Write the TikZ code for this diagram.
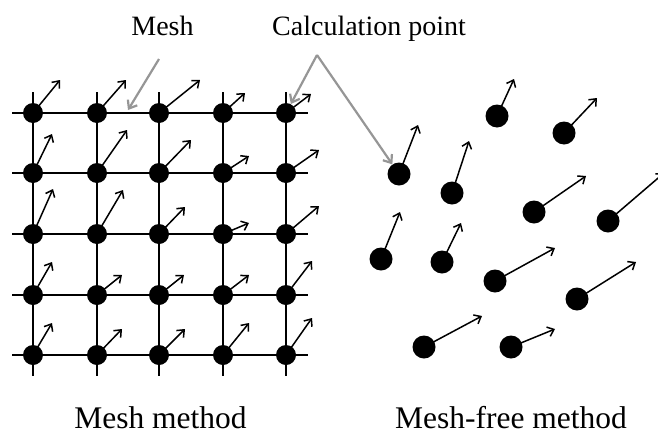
\documentclass[tikz,border=0pt]{standalone}
\usepackage{fontspec}
\setmainfont{Liberation Serif}
\usetikzlibrary{arrows.meta}
\definecolor{ptrgray}{RGB}{150,150,150}
\begin{document}
\begin{tikzpicture}[x=1pt,y=-1pt,
  gridline/.style={line width=2pt},
  gdot/.style={circle,fill=black,inner sep=0pt,minimum size=20pt},
  fdot/.style={circle,fill=black,inner sep=0pt,minimum size=23pt},
  vec/.style={line width=1.5pt,-{Straight Barb[length=6pt,width=10pt]}},
  pointer/.style={ptrgray,line width=2.2pt,-{Straight Barb[length=7pt,width=11pt]}},
  toplbl/.style={font=\fontsize{28}{30}\selectfont,anchor=base,inner sep=0pt},
  botlbl/.style={font=\fontsize{31.5}{34}\selectfont,anchor=base,inner sep=0pt}]
\useasboundingbox (0,0) rectangle (658,434);
\clip (0,0) rectangle (658,434);
% mesh lines
\foreach \x in {33,97,159,223,286} {\draw[gridline] (\x,92) -- (\x,376);}
\foreach \y in {113,173,234,295,355} {\draw[gridline] (12,\y) -- (308,\y);}
% mesh calculation points
\foreach \y [count=\j] in {113,173,234,295,355} {
  \foreach \x [count=\i] in {33,97,159,223,286} {
    \node[gdot] (g\j\i) at (\x,\y) {};
  }
}
\foreach \n/\dx/\dy in {
  g11/27/-33, g12/29/-33, g13/41/-33, g14/22/-20, g15/25/-19,
  g21/19/-39, g22/30/-43, g23/32/-33, g24/26/-17, g25/33/-23,
  g31/20/-45, g32/26/-44, g33/26/-27, g34/26/-11, g35/33/-28,
  g41/19/-33, g42/25/-20, g43/25/-20, g44/26/-20, g45/26/-34,
  g51/19/-32, g52/25/-26, g53/26/-26, g54/26/-32, g55/26/-37} {
  \draw[vec] (\n.center) -- ++(\dx,\dy);
}
% mesh-free points
\foreach \n/\x/\y in {A/399/174, B/497/116, C/564/133, D/452/193, E/534/212,
  F/608/221, G/381/259, H/442/262, I/495/281, J/577/299, K/424/347, L/511/347} {
  \node[fdot] (\n) at (\x,\y) {};
}
\foreach \n/\dx/\dy in {A/19/-49, B/17/-37, C/33/-35, D/17/-52, E/52/-36,
  F/56/-48, G/19/-47, H/19/-39, I/60/-33, J/59/-37, K/58/-31, L/44/-18} {
  \draw[vec] (\n.center) -- ++(\dx,\dy);
}
% labels
\node[toplbl] (meshlbl) at (162.5,35) {Mesh};
\node[toplbl] (calclbl) at (369,35) {Calculation point};
\node[botlbl] (meshm) at (160.5,428) {Mesh method};
\node[botlbl] (freem) at (511,428) {Mesh-free method};
% pointers
\coordinate (meshstart) at (159,59);
\coordinate (meshend) at (128,110);
\coordinate (apex) at (317,55);
\draw[pointer] (meshstart) -- (meshend);
\draw[pointer] (apex) -- (g15);
\draw[pointer] (apex) -- (A);
\end{tikzpicture}
\end{document}
